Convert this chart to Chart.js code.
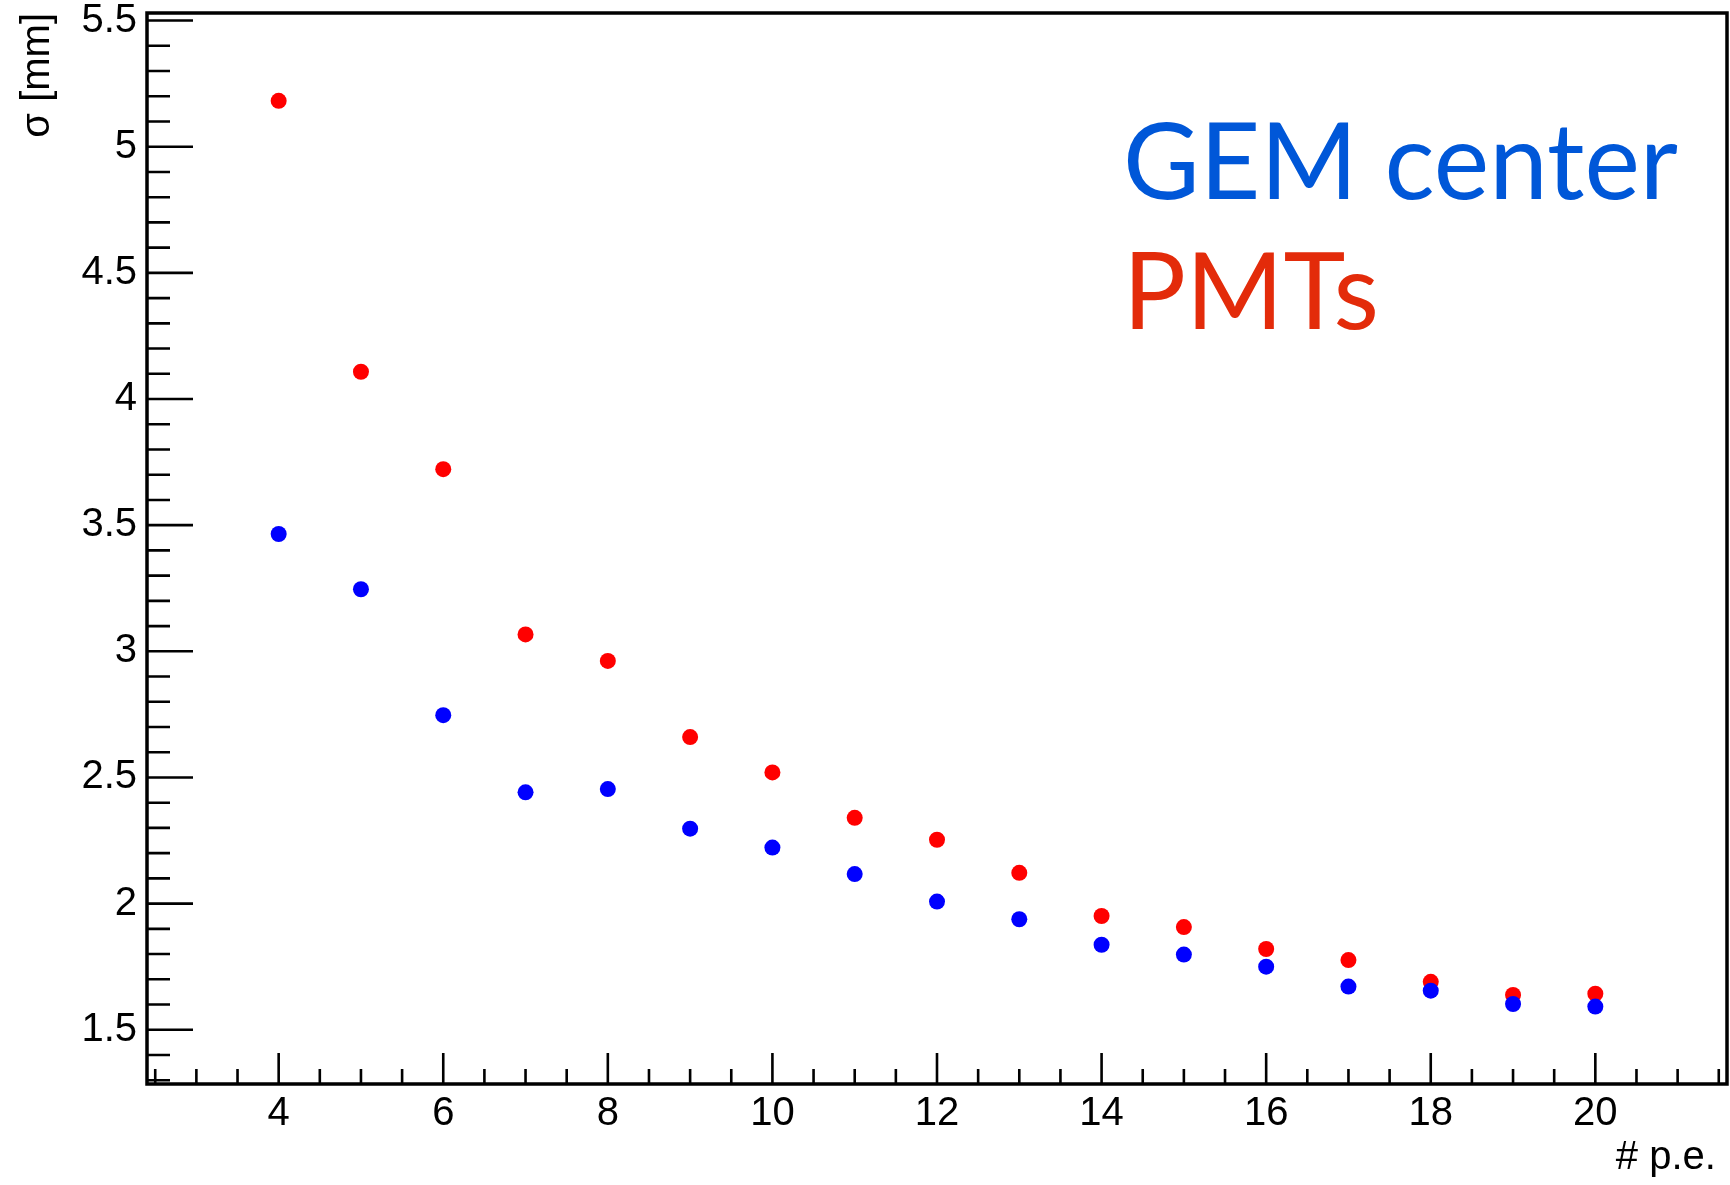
<!DOCTYPE html>
<html>
<head>
<meta charset="utf-8">
<script src="https://cdn.jsdelivr.net/npm/chart.js@4.4.1/dist/chart.umd.min.js"></script>
<style>
  html, body { margin: 0; padding: 0; background: #fff; }
  canvas { display: block; }
</style>
</head>
<body>
<canvas id="chart" width="1730" height="1185"></canvas>
<script>
// number of photoelectrons
const photoElectrons = [4, 5, 6, 7, 8, 9, 10, 11, 12, 13, 14, 15, 16, 17, 18, 19, 20]
// resolution sigma [mm]
const sigmaGem = [3.465, 3.246, 2.747, 2.441, 2.454, 2.297, 2.222, 2.117, 2.008, 1.938, 1.837, 1.798, 1.750, 1.671, 1.655, 1.602, 1.592]
const sigmaPmt = [5.182, 4.108, 3.722, 3.067, 2.962, 2.660, 2.520, 2.340, 2.253, 2.122, 1.951, 1.907, 1.820, 1.776, 1.690, 1.638, 1.643]

const xTickValues = [4, 6, 8, 10, 12, 14, 16, 18, 20]
const yTickValues = [1.5, 2, 2.5, 3, 3.5, 4, 4.5, 5, 5.5]
const seriesNames = ['GEM center', 'PMTs']
const markerColors = ['#0000ff', '#ff0000']
const labelColors = ['#0057d8', '#e32b0a']

const axisFont = { family: "'Liberation Sans', Arial, sans-serif", size: 40 }

// ROOT-style frame with inward ticks
const rootFrame = {
  id: 'rootFrame',
  afterDraw(chart) {
    const { ctx, chartArea: a } = chart
    const xs = chart.scales.x
    const ys = chart.scales.y
    ctx.save()
    ctx.strokeStyle = '#000'
    ctx.lineWidth = 2.6
    ctx.beginPath()
    for (let v = 2.5; v <= xs.max + 1e-9; v += 0.5) {
      const px = xs.getPixelForValue(v)
      const len = Math.abs(v % 2) < 1e-9 ? 31 : 15
      ctx.moveTo(px, a.bottom)
      ctx.lineTo(px, a.bottom - len)
    }
    for (let i = 13; i <= 55; i++) {
      const v = i / 10
      const py = ys.getPixelForValue(v)
      const len = i % 5 === 0 ? 46 : 23
      ctx.moveTo(a.left, py)
      ctx.lineTo(a.left + len, py)
    }
    ctx.stroke()
    ctx.lineWidth = 3.5
    ctx.strokeRect(a.left, a.top, a.right - a.left, a.bottom - a.top)
    ctx.restore()
  }
}

// big coloured series names, no markers
const rootLegend = {
  id: 'rootLegend',
  afterDraw(chart) {
    const { ctx, chartArea: a } = chart
    ctx.save()
    ctx.font = "107px Lato, 'Open Sans', sans-serif"
    ctx.textAlign = 'left'
    ctx.textBaseline = 'alphabetic'
    const squeeze = 555 / ctx.measureText(seriesNames[0]).width
    seriesNames.forEach((name, i) => {
      ctx.save()
      ctx.translate(a.left + 976, a.top + 186 + i * 130)
      ctx.scale(squeeze, 1)
      ctx.fillStyle = labelColors[i]
      ctx.fillText(name, 0, 0)
      ctx.restore()
    })
    ctx.restore()
  }
}

const datasets = [sigmaGem, sigmaPmt].map((values, i) => ({
  label: seriesNames[i],
  data: photoElectrons.map((x, j) => ({ x, y: values[j] })),
  backgroundColor: markerColors[i],
  borderColor: markerColors[i],
  borderWidth: 0,
  pointRadius: 8,
  pointHoverRadius: 8
}))

new Chart(document.getElementById('chart'), {
  type: 'scatter',
  data: { datasets },
  plugins: [rootFrame, rootLegend],
  options: {
    responsive: false,
    animation: false,
    events: [],
    layout: { autoPadding: false, padding: { top: 13, right: 3, left: 0, bottom: 0 } },
    plugins: {
      legend: { display: false },
      tooltip: { enabled: false }
    },
    scales: {
      x: {
        type: 'linear',
        min: 2.4,
        max: 21.6,
        grid: { display: false, drawTicks: false },
        border: { display: false },
        afterBuildTicks: (scale) => { scale.ticks = xTickValues.map((value) => ({ value })) },
        afterFit: (scale) => {
          scale.height = 101
          scale.paddingLeft = 0
          scale.paddingRight = 0
        },
        ticks: { color: '#000', font: axisFont, padding: 6, maxRotation: 0, autoSkip: false },
        title: {
          display: true,
          text: '# p.e. ',
          align: 'end',
          color: '#000',
          font: axisFont,
          padding: { top: 0, bottom: 3 }
        }
      },
      y: {
        type: 'linear',
        min: 1.285,
        max: 5.53,
        grid: { display: false, drawTicks: false },
        border: { display: false },
        afterBuildTicks: (scale) => { scale.ticks = yTickValues.map((value) => ({ value })) },
        afterFit: (scale) => {
          scale.width = 147
          scale.paddingTop = 0
          scale.paddingBottom = 0
        },
        ticks: { color: '#000', font: axisFont, padding: 10, autoSkip: false, callback: (value) => String(value) },
        title: {
          display: true,
          text: 'σ [mm]',
          align: 'end',
          color: '#000',
          font: axisFont,
          padding: { top: 14, bottom: 0 }
        }
      }
    }
  }
})
</script>
</body>
</html>
